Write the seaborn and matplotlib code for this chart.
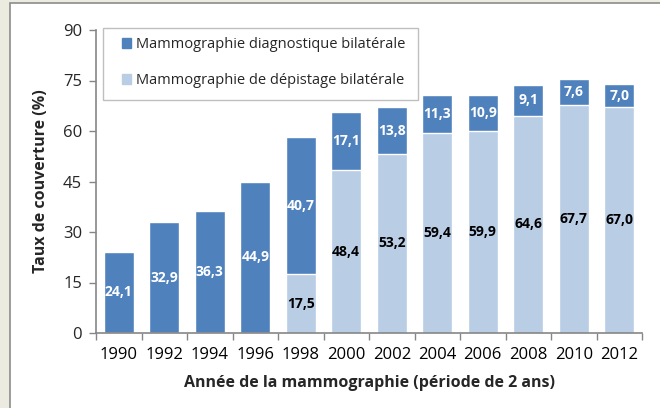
import matplotlib
matplotlib.use('Agg')
import matplotlib.pyplot as plt
import matplotlib.patches as mpatches
import seaborn as sns
import pandas as pd
import numpy as np

# values
years = ['1990', '1992', '1994', '1996', '1998', '2000', '2002', '2004', '2006', '2008', '2010', '2012']
depistage = [0, 0, 0, 0, 17.5, 48.4, 53.2, 59.4, 59.9, 64.6, 67.7, 67.0]
diagnostique = [24.1, 32.9, 36.3, 44.9, 40.7, 17.1, 13.8, 11.3, 10.9, 9.1, 7.6, 7.0]

dark = '#4F81BD'
light = '#B9CDE5'

sns.set_theme(style='white')
plt.rcParams['font.family'] = ['Open Sans', 'DejaVu Sans']

df = pd.DataFrame({'annee': years, 'depistage': depistage, 'diagnostique': diagnostique})
df['total'] = df['depistage'] + df['diagnostique']

fig = plt.figure(figsize=(6.6, 4.08), dpi=100)
fig.patch.set_facecolor('#ECEBE0')
# white panel with grey border on the left/top
fig.patches.append(mpatches.Rectangle((10 / 660, -0.1), 1.2, 1.1 - 3 / 408, transform=fig.transFigure,
                                      facecolor='white', edgecolor='#8C8C8C', linewidth=1.2, zorder=-5))
ax = fig.add_axes([96 / 660, 75 / 408, 546 / 660, 303 / 408])
ax.set_zorder(2)
ax.set_facecolor('white')

sns.barplot(data=df, x='annee', y='total', color=dark, width=0.66, saturation=1, ax=ax)
sns.barplot(data=df, x='annee', y='depistage', color=light, width=0.66, saturation=1, ax=ax)

for i, (d, g) in enumerate(zip(depistage, diagnostique)):
    if d > 0:
        ax.text(i, d / 2, f'{d:.1f}'.replace('.', ','), ha='center', va='center',
                fontsize=10, fontweight='bold', color='black')
    ax.text(i, d + g / 2, f'{g:.1f}'.replace('.', ','), ha='center', va='center',
            fontsize=10, fontweight='bold', color='white')

ax.set_ylim(0, 90)
ax.set_xlim(-0.5, 11.5)
ax.set_yticks(np.arange(0, 91, 15))
ax.set_xticks(np.arange(-0.5, 12, 1), minor=True)
ax.tick_params(axis='x', which='major', length=0, pad=10, labelsize=12, colors='black')
ax.tick_params(axis='x', which='minor', length=5, width=1, color='#868686', direction='out', bottom=True)
ax.tick_params(axis='y', length=5, width=1, color='#868686', direction='out', left=True, labelsize=12, pad=5)
for s in ['top', 'right']:
    ax.spines[s].set_visible(False)
for s in ['left', 'bottom']:
    ax.spines[s].set_color('#868686')
    ax.spines[s].set_linewidth(1.2)

ax.set_xlabel('Année de la mammographie (période de 2 ans)', fontsize=11.5, fontweight='bold', labelpad=9)
ax.set_ylabel('Taux de couverture (%)', fontsize=11.5, fontweight='bold', labelpad=10)

# legend box drawn separately so the inner padding can match
fig.patches.append(mpatches.Rectangle((103 / 660, 1 - 100 / 408), 315 / 660, 72 / 408,
                                      transform=fig.transFigure, facecolor='white',
                                      edgecolor='#BFBFBF', linewidth=1, zorder=3))
handles = [mpatches.Patch(color=dark, label='Mammographie diagnostique bilatérale'),
           mpatches.Patch(color=light, label='Mammographie de dépistage bilatérale')]
leg = fig.legend(handles=handles, loc='upper left', bbox_to_anchor=(122 / 660, 1 - 37 / 408),
                 bbox_transform=fig.transFigure, frameon=False, fontsize=10.5,
                 handlelength=0.65, handleheight=0.65, handletextpad=0.3, labelspacing=1.45,
                 borderpad=0, borderaxespad=0)
leg.set_zorder(4)

fig.savefig('out.png', dpi=100, facecolor=fig.get_facecolor())
